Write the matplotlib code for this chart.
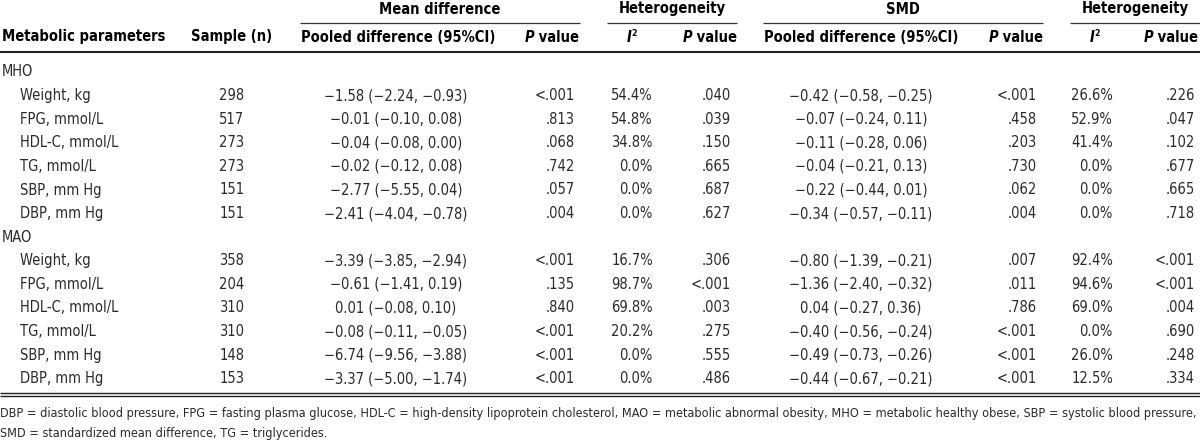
import matplotlib
matplotlib.use("Agg")
import matplotlib.pyplot as plt
from matplotlib import font_manager as fm

# table content
groups = ["MHO", "MAO"]
params = ["Weight, kg", "FPG, mmol/L", "HDL-C, mmol/L", "TG, mmol/L", "SBP, mm Hg", "DBP, mm Hg"]

mho_n = [298, 517, 273, 273, 151, 151]
mho_md = [(-1.58, -2.24, -0.93), (-0.01, -0.10, 0.08), (-0.04, -0.08, 0.00),
          (-0.02, -0.12, 0.08), (-2.77, -5.55, 0.04), (-2.41, -4.04, -0.78)]
mho_md_p = ["<.001", ".813", ".068", ".742", ".057", ".004"]
mho_md_i2 = [54.4, 54.8, 34.8, 0.0, 0.0, 0.0]
mho_md_hp = [".040", ".039", ".150", ".665", ".687", ".627"]
mho_smd = [(-0.42, -0.58, -0.25), (-0.07, -0.24, 0.11), (-0.11, -0.28, 0.06),
           (-0.04, -0.21, 0.13), (-0.22, -0.44, 0.01), (-0.34, -0.57, -0.11)]
mho_smd_p = ["<.001", ".458", ".203", ".730", ".062", ".004"]
mho_smd_i2 = [26.6, 52.9, 41.4, 0.0, 0.0, 0.0]
mho_smd_hp = [".226", ".047", ".102", ".677", ".665", ".718"]

mao_n = [358, 204, 310, 310, 148, 153]
mao_md = [(-3.39, -3.85, -2.94), (-0.61, -1.41, 0.19), (0.01, -0.08, 0.10),
          (-0.08, -0.11, -0.05), (-6.74, -9.56, -3.88), (-3.37, -5.00, -1.74)]
mao_md_p = ["<.001", ".135", ".840", "<.001", "<.001", "<.001"]
mao_md_i2 = [16.7, 98.7, 69.8, 20.2, 0.0, 0.0]
mao_md_hp = [".306", "<.001", ".003", ".275", ".555", ".486"]
mao_smd = [(-0.80, -1.39, -0.21), (-1.36, -2.40, -0.32), (0.04, -0.27, 0.36),
           (-0.40, -0.56, -0.24), (-0.49, -0.73, -0.26), (-0.44, -0.67, -0.21)]
mao_smd_p = [".007", ".011", ".786", "<.001", "<.001", "<.001"]
mao_smd_i2 = [92.4, 94.6, 69.0, 0.0, 26.0, 12.5]
mao_smd_hp = ["<.001", "<.001", ".004", ".690", ".248", ".334"]

footnote = ["DBP = diastolic blood pressure, FPG = fasting plasma glucose, HDL-C = high-density lipoprotein cholesterol, "
            "MAO = metabolic abnormal obesity, MHO = metabolic healthy obese, SBP = systolic blood pressure,",
            "SMD = standardized mean difference, TG = triglycerides."]

available = {f.name for f in fm.fontManager.ttflist}
FONT = "Liberation Sans Narrow" if "Liberation Sans Narrow" in available else "DejaVu Sans"
STRETCH = "normal" if FONT == "Liberation Sans Narrow" else "condensed"
plt.rcParams["font.family"] = [FONT, "DejaVu Sans"]
plt.rcParams["font.stretch"] = STRETCH

FS = 10.5
DATA_C = "#2a2a2a"


def num(v):
    return f"{v:.2f}".replace("-", "\u2212")


def ci(t):
    return f"{num(t[0])} ({num(t[1])}, {num(t[2])})"


def pct(v):
    return f"{v:.1f}%"


def lt(s):
    return s.replace("<", "<")


fig = plt.figure(figsize=(12, 4.47), dpi=100)
ax = fig.add_axes([0, 0, 1, 1])
ax.set_xlim(0, 1200)
ax.set_ylim(447, 0)
ax.axis("off")

# group headers with rules underneath
group_hdr = [("Mean difference", 300, 580), ("Heterogeneity", 607, 737),
             ("SMD", 763, 1043), ("Heterogeneity", 1070, 1200)]
for label, x0, x1 in group_hdr:
    ax.text((x0 + x1) / 2, 9, label, ha="center", va="center", fontsize=FS, fontweight="bold")
    ax.plot([x0, x1], [23, 23], color="#333333", lw=0.9, solid_capstyle="butt")

HY = 37
ax.text(2, HY, "Metabolic parameters", ha="left", va="center", fontsize=FS, fontweight="bold")
ax.text(232, HY, "Sample (n)", ha="center", va="center", fontsize=FS, fontweight="bold")
ax.text(398, HY, "Pooled difference (95%CI)", ha="center", va="center", fontsize=FS, fontweight="bold")
ax.text(861, HY, "Pooled difference (95%CI)", ha="center", va="center", fontsize=FS, fontweight="bold")


def p_header(xr):
    t = ax.text(xr, HY, " value", ha="right", va="center", fontsize=FS, fontweight="bold")
    ax.annotate("P", xy=(0, 0), xycoords=t, ha="right", va="bottom",
                fontsize=FS, fontweight="bold", fontstyle="italic")


def i2_header(xc):
    t = ax.text(xc - 2, HY, "I", ha="center", va="center", fontsize=FS,
                fontweight="bold", fontstyle="italic")
    ax.annotate("2", xy=(1, 1), xycoords=t, ha="left", va="top",
                fontsize=FS * 0.6, fontweight="bold")


for xr in (579, 737, 1043, 1198):
    p_header(xr)
for xc in (631, 1094):
    i2_header(xc)

ax.plot([0, 1200], [52, 52], color="#222222", lw=1.5, solid_capstyle="butt")

# body rows
Y0, DY = 72, 23.6
row = 0
blocks = [
    (mho_n, mho_md, mho_md_p, mho_md_i2, mho_md_hp, mho_smd, mho_smd_p, mho_smd_i2, mho_smd_hp),
    (mao_n, mao_md, mao_md_p, mao_md_i2, mao_md_hp, mao_smd, mao_smd_p, mao_smd_i2, mao_smd_hp),
]
kw = dict(va="center", fontsize=FS, color=DATA_C)
for g, blk in zip(groups, blocks):
    y = Y0 + row * DY
    ax.text(2, y, g, ha="left", **kw)
    row += 1
    n, md, mdp, mdi, mdh, smd, smdp, smdi, smdh = blk
    for i, p in enumerate(params):
        y = Y0 + row * DY
        ax.text(20, y, p, ha="left", **kw)
        ax.text(232, y, str(n[i]), ha="center", **kw)
        ax.text(396, y, ci(md[i]), ha="center", **kw)
        ax.text(575, y, lt(mdp[i]), ha="right", **kw)
        ax.text(653, y, pct(mdi[i]), ha="right", **kw)
        ax.text(731, y, lt(mdh[i]), ha="right", **kw)
        ax.text(861, y, ci(smd[i]), ha="center", **kw)
        ax.text(1037, y, lt(smdp[i]), ha="right", **kw)
        ax.text(1113, y, pct(smdi[i]), ha="right", **kw)
        ax.text(1195, y, lt(smdh[i]), ha="right", **kw)
        row += 1

ax.plot([0, 1200], [393, 393], color="#222222", lw=1.0, solid_capstyle="butt")
ax.plot([0, 1200], [395.5, 395.5], color="#222222", lw=1.0, solid_capstyle="butt")

# footnote, sized to fill the width
fn1 = ax.text(0, 413, footnote[0], ha="left", va="center", fontsize=8.5, color=DATA_C)
fn2 = ax.text(0, 433, footnote[1], ha="left", va="center", fontsize=8.5, color=DATA_C)
fig.canvas.draw()
w = fn1.get_window_extent().width
scale = 1195 / w
fn1.set_fontsize(8.5 * scale)
fn2.set_fontsize(8.5 * scale)

fig.savefig("out.png", dpi=100)
